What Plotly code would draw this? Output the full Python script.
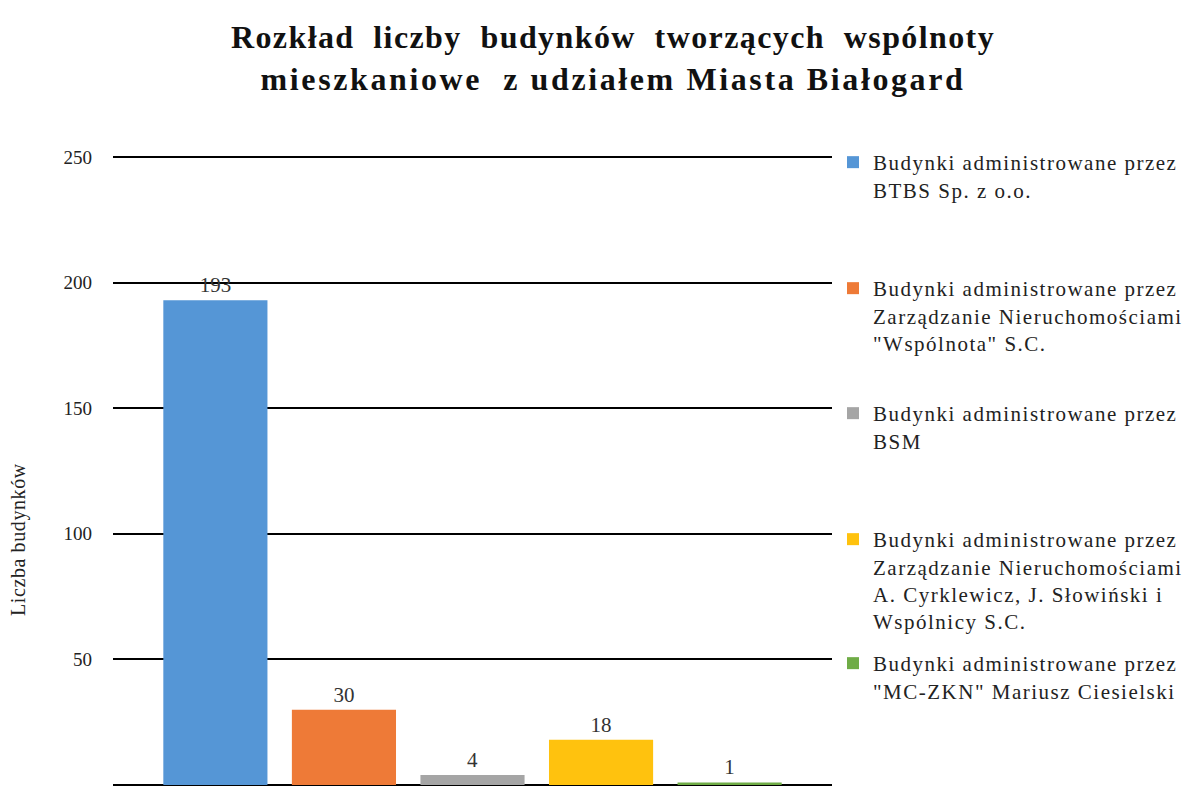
import plotly.graph_objects as go

# Dane: liczba budynków wg administratora
series_names = [
    "Budynki administrowane przez<br>BTBS Sp. z o.o.",
    "Budynki administrowane przez<br>Zarządzanie Nieruchomościami<br>\"Wspólnota\" S.C.",
    "Budynki administrowane przez<br>BSM",
    "Budynki administrowane przez<br>Zarządzanie Nieruchomościami<br>A. Cyrklewicz, J. Słowiński i<br>Wspólnicy S.C.",
    "Budynki administrowane przez<br>\"MC-ZKN\" Mariusz Ciesielski",
]
building_counts = [193, 30, 4, 18, 1]
bar_colors = ["#5596d6", "#ee7a37", "#a5a5a5", "#ffc20e", "#6fac46"]
y_ticks = [0, 50, 100, 150, 200, 250]
y_max = 250.8  # odrobina zapasu, żeby linia siatki 250 była rysowana

# położenie legend (px od góry) – każda seria ma własną legendę
legend_tops_px = [142, 268, 393, 519, 643]

W, H = 1194, 791
plot_left, plot_right = 113, 832
plot_bottom = 785
px_per_unit = (785 - 157) / 250
plot_top = plot_bottom - y_max * px_per_unit
plot_w = plot_right - plot_left
plot_h = plot_bottom - plot_top

serif = "Liberation Serif"


def spaced(text, px):
    return '<span style="letter-spacing:%.1fpx">%s</span>' % (px, text)


def spaced_lines(text, px):
    return "<br>".join(spaced(line, px) for line in text.split("<br>"))


fig = go.Figure()
for i, (name, val, col) in enumerate(zip(series_names, building_counts, bar_colors)):
    legend_id = "legend" if i == 0 else f"legend{i + 1}"
    fig.add_trace(go.Bar(
        x=["Budynki"], y=[val], name=spaced_lines(name, 1.5),
        marker=dict(color=col, line=dict(width=0)),
        text=[str(val)], textposition="outside",
        textfont=dict(family=serif, size=21, color="#333333"),
        cliponaxis=False,
        legend=legend_id,
    ))

legend_layout = {}
for i, top in enumerate(legend_tops_px):
    key = "legend" if i == 0 else f"legend{i + 1}"
    legend_layout[key] = dict(
        x=(833 - plot_left) / plot_w, xanchor="left",
        y=(plot_bottom - top) / plot_h, yanchor="top",
        font=dict(family=serif, size=21, color="#222222"),
        bgcolor="rgba(0,0,0,0)", itemwidth=30, valign="top",
        tracegroupgap=0,
    )

title_text = (
    spaced("Rozkład\u00a0 liczby\u00a0 budynków\u00a0 tworzących\u00a0 wspólnoty", 1.4)
    + "<br>"
    + spaced("mieszkaniowe\u00a0 z udziałem Miasta Białogard", 2.6)
)

fig.update_layout(
    width=W, height=H,
    margin=dict(l=plot_left, r=W - plot_right, t=plot_top, b=H - plot_bottom,
                pad=0, autoexpand=False),
    paper_bgcolor="white", plot_bgcolor="white",
    font=dict(family=serif),
    barmode="group", bargap=0.106, bargroupgap=0.19,
    showlegend=True,
    title=dict(
        text=title_text,
        x=613 / W, xanchor="center", xref="container",
        y=1 - 48 / H, yanchor="top", yref="container",
        font=dict(family=serif, size=32, color="#111111", weight="bold"),
    ),
    xaxis=dict(showticklabels=False, showgrid=False, zeroline=False,
               showline=False, fixedrange=True),
    yaxis=dict(
        range=[0, y_max], tickvals=y_ticks, showgrid=True,
        gridcolor="#000000", gridwidth=2,
        zeroline=True, zerolinecolor="#000000", zerolinewidth=2,
        showline=False, ticks="", ticklabelstandoff=20,
        tickfont=dict(family=serif, size=19, color="#222222"),
    ),
    annotations=[dict(
        text=spaced("Liczba budynków", 0.6), textangle=-90,
        xref="paper", yref="paper",
        x=(18 - plot_left) / plot_w, y=(plot_bottom - 540) / plot_h,
        xanchor="center", yanchor="middle", showarrow=False,
        font=dict(family=serif, size=20, color="#222222"),
    )],
    **legend_layout,
)

fig.write_html("out.html")
